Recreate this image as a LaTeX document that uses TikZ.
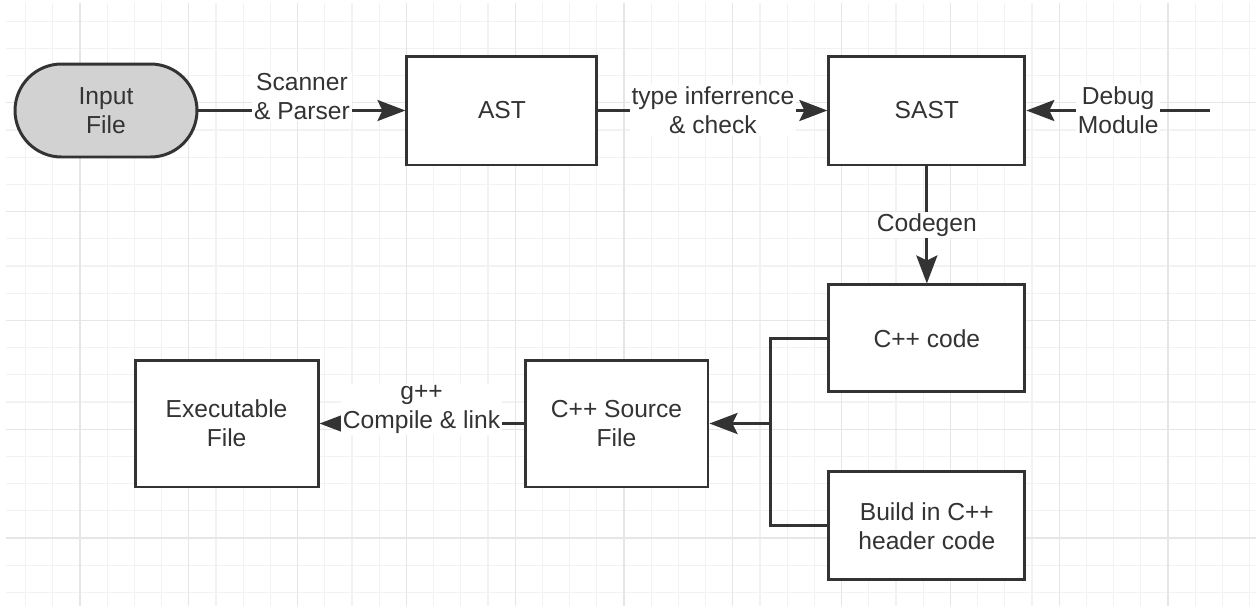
\documentclass[tikz,border=0pt]{standalone}
\usepackage{fontspec}
\setmainfont{Liberation Sans}
\usetikzlibrary{arrows.meta}

\definecolor{edge}{HTML}{333333}
\definecolor{ink}{HTML}{333333}
\definecolor{termfill}{HTML}{D2D2D2}
\definecolor{gridminor}{HTML}{F2F2F2}
\definecolor{gridmajor}{HTML}{E6E6E6}

\tikzset{
  box/.style={draw=edge, line width=1.7pt, fill=white, text=ink, inner sep=0pt,
    minimum width=3.92cm, minimum height=2.18cm, align=center,
    font=\fontsize{14}{16.5}\selectfont},
  terminal/.style={box, fill=termfill, rounded corners=0.93cm,
    minimum width=3.64cm, minimum height=1.86cm},
  flow/.style={draw=edge, line width=1.7pt,
    -{Stealth[length=0.56cm, width=0.42cm, inset=0.1cm]}},
  wire/.style={draw=edge, line width=1.7pt},
  lbl/.style={fill=white, text=ink, inner sep=1pt, align=center,
    font=\fontsize{14}{16.5}\selectfont},
}

\begin{document}
\begin{tikzpicture}[x=0.02cm, y=-0.02cm, node distance=7.92cm]
\useasboundingbox (0,0) rectangle (1256,606);

% grid paper
\begin{scope}
  \clip (6,3) rectangle (1256,606);
  \foreach \i in {0,...,45}
    \draw[gridminor, line width=0.6pt] ({25.6+27.2*\i},0) -- ++(0,606);
  \foreach \i in {0,...,21}
    \draw[gridminor, line width=0.6pt] (0,{21.2+27.2*\i}) -- ++(1256,0);
  \foreach \i in {0,...,11}
    \draw[gridmajor, line width=0.6pt] ({80+108.8*\i},0) -- ++(0,606);
  \foreach \i in {0,...,4}
    \draw[gridmajor, line width=0.6pt] (0,{102.8+108.8*\i}) -- ++(1256,0);
\end{scope}

% top row
\node[terminal] (in) at (106,110.5) {Input\\File};
\node[box, minimum width=3.8cm] (ast) [right of=in] {AST};
\node[box] (sast) [right of=ast, node distance=8.5cm] {SAST};
\coordinate (dbg) at (1210,110.5);

% generated code
\node[box, minimum height=2.14cm] (cpp) [below of=sast, node distance=4.56cm] {C++ code};
\node[box, minimum height=2.16cm] (hdr) [below of=cpp, node distance=3.75cm] {Build in C++\\header code};

% bottom row
\node[box, minimum width=3.66cm, minimum height=2.54cm] (src) at (616.5,423.5) {C++ Source\\File};
\node[box, minimum width=3.66cm, minimum height=2.54cm] (exe) [left of=src, node distance=7.8cm] {Executable\\File};
\coordinate (bus) at (770,423.5);

\draw[flow] (in) -- node[lbl, yshift=0.28cm] {Scanner\\\& Parser} (ast);
\draw[flow] (ast) -- node[lbl] {type inferrence\\\& check} (sast);
\draw[flow] (dbg) -- node[lbl] {Debug\\Module} (sast);
\draw[flow] (sast) -- node[lbl] {Codegen} (cpp);
\draw[wire] (cpp.west) -| (bus) |- (hdr.west);
\draw[flow] (bus) -- (src);
\draw[flow] (src) -- node[lbl, yshift=0.28cm] {g++\\Compile \& link} (exe);
\end{tikzpicture}
\end{document}
